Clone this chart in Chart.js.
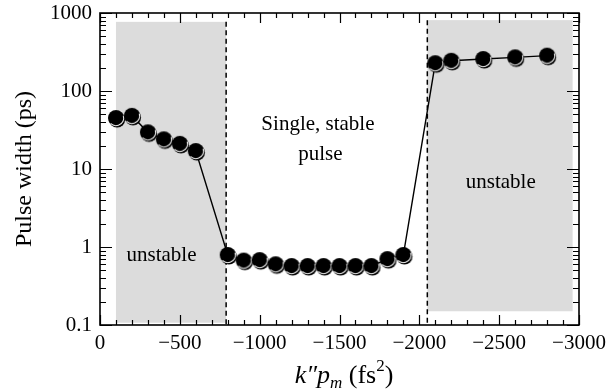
<!DOCTYPE html>
<html>
<head>
<meta charset="utf-8">
<script src="https://cdn.jsdelivr.net/npm/chart.js@4/dist/chart.umd.min.js"></script>
<style>
  html, body { margin: 0; padding: 0; background: #fff; }
  #wrap { position: relative; width: 608px; height: 392px; }
</style>
</head>
<body>
<div id="wrap"><canvas id="c" width="608" height="392"></canvas></div>
<script>
// Measured pulse width versus net cavity dispersion k''p_m
const dispersion = [-100, -200, -300, -400, -500, -600,
  -800, -900, -1000, -1100, -1200, -1300, -1400, -1500, -1600, -1700, -1800, -1900,
  -2100, -2200, -2400, -2600, -2800];
const pulseWidth = [45, 48, 29.5, 24, 21, 17,
  0.79, 0.67, 0.68, 0.60, 0.57, 0.57, 0.57, 0.57, 0.57, 0.57, 0.70, 0.79,
  227, 244, 257, 270, 284];

// Axis ticks
const xTicks = [0, -500, -1000, -1500, -2000, -2500, -3000];
const xTickLabels = ['0', '\u2212500', '\u22121000', '\u22121500', '\u22122000', '\u22122500', '\u22123000'];
const yTicks = [0.1, 1, 10, 100, 1000];
const yTickLabels = ['0.1', '1', '10', '100', '1000'];

// Unstable operating regions (dispersion range, pulse-width range)
const bandFrom = [-100, -2050];
const bandTo = [-790, -2960];
const bandLow = [0.107, 0.15];
const bandHigh = [770, 810];
// Stability boundaries
const boundaries = [-790, -2050];

// Region labels
const noteText = ['unstable', 'unstable', 'Single, stable', 'pulse'];
const noteX = [-385, -2510, -1365, -1380];
const noteY = [0.77, 6.8, 37, 15.5];

const SERIF = "'Liberation Serif', 'Times New Roman', serif";
Chart.defaults.font.family = SERIF;
Chart.defaults.color = '#000';

// Filled marker with a thin light rim on its lower right
function makeMarker(r) {
  const s = Math.ceil(2 * r + 6);
  const c = document.createElement('canvas');
  c.width = s; c.height = s;
  const g = c.getContext('2d');
  const cx = s / 2, cy = s / 2;
  g.fillStyle = '#000';
  g.beginPath(); g.arc(cx + 1.1, cy + 1.5, r, 0, 2 * Math.PI); g.fill();
  g.beginPath(); g.arc(cx, cy, r, 0, 2 * Math.PI); g.fill();
  g.strokeStyle = '#f2f2f2'; g.lineWidth = 1.1;
  g.beginPath(); g.arc(cx, cy, r - 0.3, -0.1 * Math.PI, 0.75 * Math.PI); g.stroke();
  return c;
}
const marker = makeMarker(8);

const regions = {
  id: 'regions',
  beforeDatasetsDraw(chart) {
    const { ctx, chartArea: a, scales: { x, y } } = chart;
    ctx.save();
    ctx.fillStyle = '#dcdcdc';
    for (let i = 0; i < bandFrom.length; i++) {
      const x0 = x.getPixelForValue(bandFrom[i]);
      const x1 = x.getPixelForValue(bandTo[i]);
      const y0 = y.getPixelForValue(bandHigh[i]);
      const y1 = y.getPixelForValue(bandLow[i]);
      ctx.fillRect(Math.min(x0, x1), y0, Math.abs(x1 - x0), y1 - y0);
    }
    ctx.strokeStyle = '#000';
    ctx.lineWidth = 1.5;
    ctx.setLineDash([5, 3.5]);
    for (let i = 0; i < boundaries.length; i++) {
      const px = x.getPixelForValue(boundaries[i]);
      ctx.beginPath();
      ctx.moveTo(px, y.getPixelForValue(bandHigh[i]));
      ctx.lineTo(px, a.bottom);
      ctx.stroke();
    }
    ctx.setLineDash([]);
    ctx.font = '21px ' + SERIF;
    ctx.fillStyle = '#000';
    ctx.textAlign = 'center';
    ctx.textBaseline = 'middle';
    for (let i = 0; i < noteText.length; i++) {
      ctx.fillText(noteText[i], x.getPixelForValue(noteX[i]), y.getPixelForValue(noteY[i]));
    }
    ctx.restore();
  }
};

const frame = {
  id: 'frame',
  afterDraw(chart) {
    const { ctx, chartArea: a, scales: { x, y } } = chart;
    ctx.save();
    ctx.strokeStyle = '#000';
    ctx.lineWidth = 1.2;
    ctx.beginPath();
    // x ticks: long at labelled values, short every 100 between them
    const xStep = (xTicks[1] - xTicks[0]) / 5;
    for (let v = xTicks[0]; v >= xTicks[xTicks.length - 1]; v += xStep) {
      const px = Math.round(x.getPixelForValue(v)) + 0.5;
      const len = xTicks.includes(Math.round(v)) ? 10 : 5;
      ctx.moveTo(px, a.bottom); ctx.lineTo(px, a.bottom - len);
      ctx.moveTo(px, a.top); ctx.lineTo(px, a.top + len);
    }
    // y ticks: long at decades, short at 2..9
    for (let d = 0; d < yTicks.length; d++) {
      for (let m = 1; m <= 9; m++) {
        const v = yTicks[d] * m;
        if (v > yTicks[yTicks.length - 1] * 1.0001) break;
        const py = Math.round(y.getPixelForValue(v)) + 0.5;
        const len = m === 1 ? 12 : 6;
        ctx.moveTo(a.left, py); ctx.lineTo(a.left + len, py);
        ctx.moveTo(a.right, py); ctx.lineTo(a.right - len, py);
      }
    }
    ctx.stroke();
    ctx.lineWidth = 1.6;
    ctx.strokeRect(a.left, a.top, a.right - a.left, a.bottom - a.top);

    // x axis title: k''p_m (fs^2)
    const big = '26px ' + SERIF, bigI = 'italic 26px ' + SERIF;
    const smallI = 'italic 17px ' + SERIF, small = '17px ' + SERIF;
    const parts = [
      { t: 'k\u2033p', f: bigI, dy: 0 },
      { t: 'm', f: smallI, dy: 5 },
      { t: ' (fs', f: big, dy: 0 },
      { t: '2', f: small, dy: -12 },
      { t: ')', f: big, dy: 0 }
    ];
    let w = 0;
    for (const p of parts) { ctx.font = p.f; p.w = ctx.measureText(p.t).width; w += p.w; }
    let cx = 344 - w / 2;
    const base = 383;
    ctx.fillStyle = '#000';
    ctx.textAlign = 'left';
    ctx.textBaseline = 'alphabetic';
    for (const p of parts) { ctx.font = p.f; ctx.fillText(p.t, cx, base + p.dy); cx += p.w; }
    ctx.restore();
  }
};

new Chart(document.getElementById('c'), {
  type: 'line',
  data: {
    datasets: [{
      data: dispersion.map((d, i) => ({ x: d, y: pulseWidth[i] })),
      borderColor: '#000',
      borderWidth: 1.4,
      pointStyle: marker,
      pointRadius: 8,
      pointHoverRadius: 8,
      tension: 0
    }]
  },
  options: {
    responsive: false,
    animation: false,
    events: [],
    layout: { padding: { top: 13, right: 29, left: 0, bottom: 0 } },
    plugins: { legend: { display: false }, tooltip: { enabled: false } },
    scales: {
      x: {
        type: 'linear',
        min: -3000, max: 0, reverse: true,
        grid: { display: false, drawTicks: false },
        border: { display: false },
        afterBuildTicks: s => { s.ticks = xTicks.map(v => ({ value: v })); },
        afterFit: s => { s.height = 67; s.paddingLeft = 0; s.paddingRight = 0; },
        ticks: {
          font: { size: 21 }, color: '#000', padding: 6,
          maxRotation: 0, autoSkip: false,
          callback: (v, i) => xTickLabels[i]
        }
      },
      y: {
        type: 'logarithmic',
        min: 0.1, max: 1000,
        grid: { display: false, drawTicks: false },
        border: { display: false },
        afterBuildTicks: s => { s.ticks = yTicks.map(v => ({ value: v })); },
        afterFit: s => { s.width = 100; s.paddingTop = 0; s.paddingBottom = 0; },
        ticks: {
          font: { size: 21 }, color: '#000', padding: 8, autoSkip: false,
          callback: (v, i) => yTickLabels[i]
        },
        title: {
          display: true, text: 'Pulse width (ps)',
          font: { size: 24 }, color: '#000', padding: { top: 10, bottom: 0 }
        }
      }
    }
  },
  plugins: [regions, frame]
});
</script>
</body>
</html>
